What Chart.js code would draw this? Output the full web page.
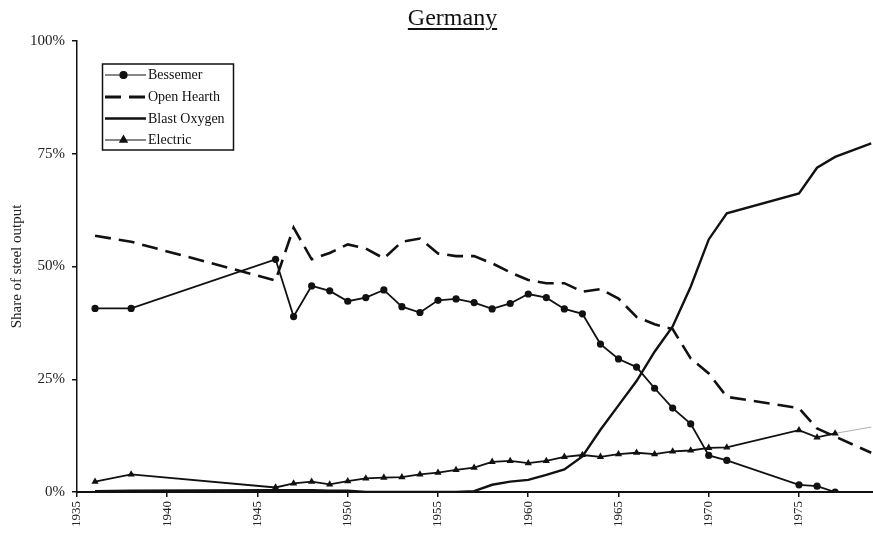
<!DOCTYPE html>
<html>
<head>
<meta charset="utf-8">
<script src="https://cdn.jsdelivr.net/npm/chart.js@4.4.1/dist/chart.umd.min.js"></script>
<style>
  body { margin: 0; background: #fff; }
  #wrap { position: relative; width: 873px; height: 537px; }
  #title {
    position: absolute; left: 352px; top: 5px; width: 201px;
    text-align: center; font: 24px/24px "Liberation Serif", serif; color: #111;
    text-decoration: underline; text-underline-offset: 3px; text-decoration-thickness: 1.5px;
  }
  canvas { display: block; }
</style>
</head>
<body>
<div id="wrap">
  <div id="title">Germany</div>
  <canvas id="chart" width="873" height="537"></canvas>
</div>
<script>
(function () {
  "use strict";

  const years = [1936, 1938, 1946, 1947, 1948, 1949, 1950, 1951, 1952, 1953, 1954,
    1955, 1956, 1957, 1958, 1959, 1960, 1961, 1962, 1963, 1964, 1965, 1966, 1967,
    1968, 1969, 1970, 1971, 1975, 1976, 1977, 1978, 1979];

  const bessemer = [40.7, 40.7, 51.6, 38.9, 45.7, 44.6, 42.3, 43.1, 44.8, 41.1, 39.8,
    42.5, 42.8, 42.0, 40.6, 41.8, 43.9, 43.1, 40.6, 39.5, 32.8, 29.5, 27.7, 23.0,
    18.6, 15.1, 8.1, 7.0, 1.6, 1.3, 0, null, null];

  const openHearth = [56.8, 55.5, 46.9, 58.6, 51.6, 53.0, 54.9, 54.0, 51.8, 55.5, 56.2,
    52.9, 52.3, 52.3, 50.7, 48.7, 47.0, 46.3, 46.3, 44.4, 45.0, 42.9, 38.8, 37.2,
    36.1, 29.6, 26.3, 21.1, 18.6, 14.1, 12.3, 10.5, 8.7];

  const blastOxygen = [0.2, 0.3, 0.4, 0.4, 0.4, 0.3, 0.3, 0, 0, 0, 0,
    0, 0, 0.2, 1.6, 2.3, 2.7, 3.8, 5.0, 7.9, 13.8, 19.2, 24.6, 31.1,
    36.7, 45.5, 56.0, 61.8, 66.2, 71.9, 74.3, 75.8, 77.3];

  const electric = [2.3, 3.9, 1.0, 1.9, 2.3, 1.7, 2.4, 3.0, 3.2, 3.3, 3.9,
    4.3, 4.9, 5.4, 6.7, 6.9, 6.4, 6.9, 7.8, 8.2, 7.8, 8.4, 8.7, 8.4,
    9.0, 9.2, 9.8, 9.9, 13.7, 12.1, 13.0, null, 14.4];

  const yTicks = [0, 25, 50, 75, 100];
  const FONT = "'Liberation Serif', 'Times New Roman', serif";
  const INK = "#111";

  function toPoints(values) {
    return years.map((x, i) => ({ x: x, y: values[i] }));
  }

  // legend box drawn inside the plot, like the original
  const boxLegend = {
    id: "boxLegend",
    afterDatasetsDraw(chart) {
      const ctx = chart.ctx;
      const left = 102.5, top = 64, w = 131, h = 86;
      const rows = [75, 97, 118.5, 140];
      ctx.save();
      ctx.fillStyle = "#fff";
      ctx.fillRect(left, top, w, h);
      ctx.strokeStyle = INK;
      ctx.lineWidth = 1.5;
      ctx.strokeRect(left, top, w, h);
      ctx.font = "14px " + FONT;
      ctx.textBaseline = "middle";
      chart.data.datasets.forEach((ds, i) => {
        const y = rows[i];
        ctx.beginPath();
        ctx.strokeStyle = INK;
        ctx.lineWidth = ds.legendWidth;
        ctx.setLineDash(ds.borderDash || []);
        ctx.moveTo(105, y);
        ctx.lineTo(146, y);
        ctx.stroke();
        ctx.setLineDash([]);
        if (ds.legendMarker) {
          Chart.helpers.drawPoint(ctx, {
            pointStyle: ds.pointStyle, radius: ds.legendMarker, rotation: 0, borderWidth: 1
          }, 123.5, y);
          ctx.fillStyle = INK;
          ctx.fill();
        }
        ctx.fillStyle = INK;
        ctx.fillText(ds.label, 148, y + 0.5);
      });
      ctx.restore();
    }
  };

  new Chart(document.getElementById("chart").getContext("2d"), {
    type: "line",
    data: {
      datasets: [
        {
          label: "Bessemer",
          data: toPoints(bessemer),
          borderColor: INK,
          backgroundColor: INK,
          borderWidth: 1.8,
          legendWidth: 1.2,
          pointStyle: "circle",
          pointRadius: 3.6,
          legendMarker: 3.5,
          pointBorderWidth: 0,
          tension: 0,
        },
        {
          label: "Open Hearth",
          data: toPoints(openHearth),
          borderColor: INK,
          borderWidth: 2.6,
          legendWidth: 2.8,
          borderDash: [16, 8],
          pointRadius: 0,
          tension: 0,
        },
        {
          label: "Blast Oxygen",
          data: toPoints(blastOxygen),
          borderColor: INK,
          borderWidth: 2.4,
          legendWidth: 2.4,
          pointRadius: 0,
          tension: 0,
        },
        {
          label: "Electric",
          data: toPoints(electric),
          borderColor: INK,
          backgroundColor: INK,
          borderWidth: 1.8,
          legendWidth: 1.2,
          pointStyle: "triangle",
          pointRadius: (c) => (c.raw && c.raw.x > 1977 ? 0 : 4.2),
          legendMarker: 4.2,
          pointBorderWidth: 0,
          tension: 0,
          segment: {
            borderWidth: (c) => (c.p0.parsed.x >= 1977 ? 0.8 : 1.8),
            borderColor: (c) => (c.p0.parsed.x >= 1977 ? "#9a9a9a" : INK),
          },
        },
      ],
    },
    options: {
      responsive: false,
      animation: false,
      spanGaps: true,
      // the x axis runs off the right edge of the picture, no auto padding there
      layout: { autoPadding: false, padding: { top: 41, right: 0, left: 0, bottom: 0 } },
      plugins: {
        legend: { display: false },
        tooltip: { enabled: false },
        title: { display: false },
      },
      scales: {
        x: {
          type: "linear",
          min: 1935,
          max: 1979.1,
          afterFit: (s) => { s.height = 45; s.paddingRight = 0; s.paddingLeft = 0; },
          afterBuildTicks: (s) => {
            s.ticks = s.ticks.filter((t) => t.value % 5 === 0);
          },
          grid: { drawOnChartArea: false, drawTicks: true, tickLength: 5, color: INK, lineWidth: 1.5 },
          border: { display: true, color: INK, width: 2 },
          ticks: {
            stepSize: 5,
            autoSkip: false,
            maxRotation: 90,
            minRotation: 90,
            padding: 4,
            color: "#222",
            font: { family: FONT, size: 13 },
            callback: (v) => String(v),
          },
        },
        y: {
          min: 0,
          max: 100,
          afterFit: (s) => { s.width = 77; s.paddingTop = 0; s.paddingBottom = 0; },
          afterBuildTicks: (s) => {
            s.ticks = yTicks.map((v) => ({ value: v }));
          },
          grid: { drawOnChartArea: false, drawTicks: true, tickLength: 5, color: INK, lineWidth: 1.5 },
          border: { display: true, color: INK, width: 1.5 },
          ticks: {
            padding: 7,
            color: "#222",
            font: { family: FONT, size: 15 },
            callback: (v) => v + "%",
          },
          title: {
            display: true,
            text: "Share of steel output",
            color: "#222",
            font: { family: FONT, size: 15 },
            padding: { top: 8.5, bottom: 0 },
          },
        },
      },
    },
    plugins: [boxLegend],
  });
})();
</script>
</body>
</html>
